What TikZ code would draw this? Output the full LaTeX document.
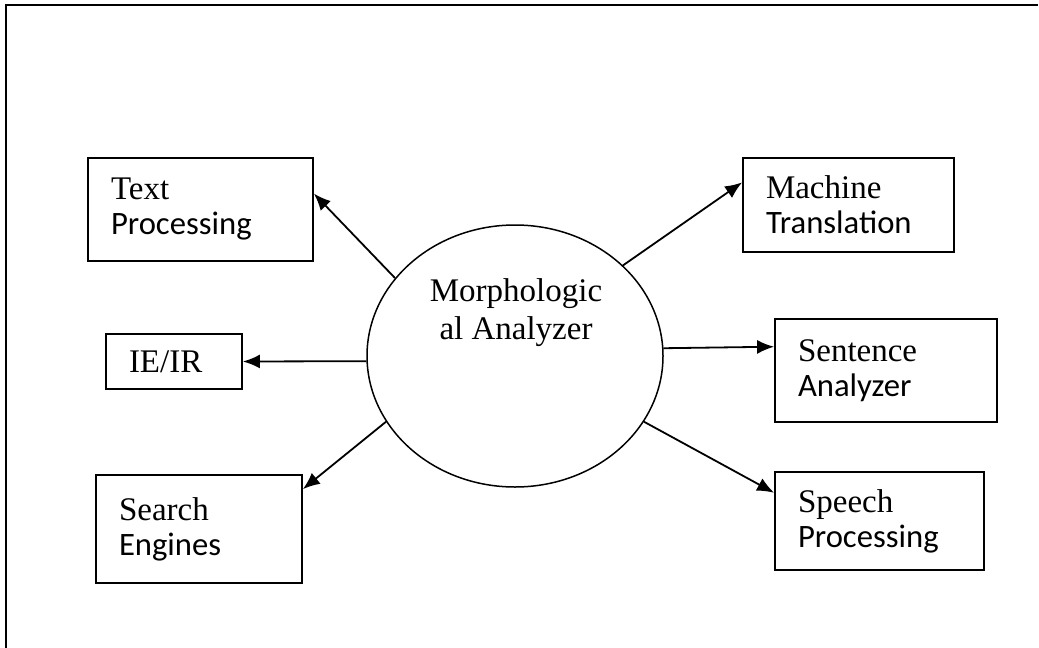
\documentclass[tikz,border=0pt]{standalone}
\usepackage{fontspec}
\setmainfont{Liberation Serif}
\newfontfamily\calibri[Scale=0.99]{Carlito}
\usetikzlibrary{shapes.geometric,arrows.meta}
\tikzset{
  box/.style={draw, line width=1.8pt, inner xsep=23pt, align=left, font=\fontsize{33}{35}\selectfont},
  hub/.style={draw, ellipse, line width=1.5pt, minimum width=296pt, minimum height=262pt, inner sep=0pt},
}
\begin{document}
\begin{tikzpicture}[x=1pt, y=-1pt, line width=1.8pt, >={Latex[length=17pt,width=14pt]}]
\useasboundingbox (0,0) rectangle (1039,648);
\draw (6,648) -- (6,5) -- (1038,5);
\node[hub] (ell) at (515,356) {};
\node[align=center, font=\fontsize{33}{38}\selectfont] (mtext) at (516,313) {Morphologic\\al Analyzer};
% left side
\node[box, text width=179pt, minimum height=103pt] (tp) at (200.5,209.5) {Text\\\calibri Processing};
\node[box, text width=90pt, minimum height=55pt] (ie) at (174,361.5) {IE/IR};
\node[box, text width=160pt, minimum height=108pt] (se) at (199,529) {Search\\\calibri Engines};
% right side
\node[box, text width=165pt, minimum height=94pt] (mt) at (848.5,205) {Machine\\\calibri Translation};
\node[box, text width=176pt, minimum height=103pt] (sa) at (886,370.5) {Sentence\\\calibri Analyzer};
\node[box, text width=163pt, minimum height=98pt] (sp) at (879.5,521) {Speech\\\calibri Processing};
\draw[->] (ell.147) -- (tp.8);
\draw[->] (ell.182) -- (ie.east);
\draw[->] (ell.207) -- (se.21);
\draw[->] (ell.40) -- (mt.168);
\draw[->] (ell.3) -- (sa.168);
\draw[->] (ell.333) -- (sp.165);
\end{tikzpicture}
\end{document}
